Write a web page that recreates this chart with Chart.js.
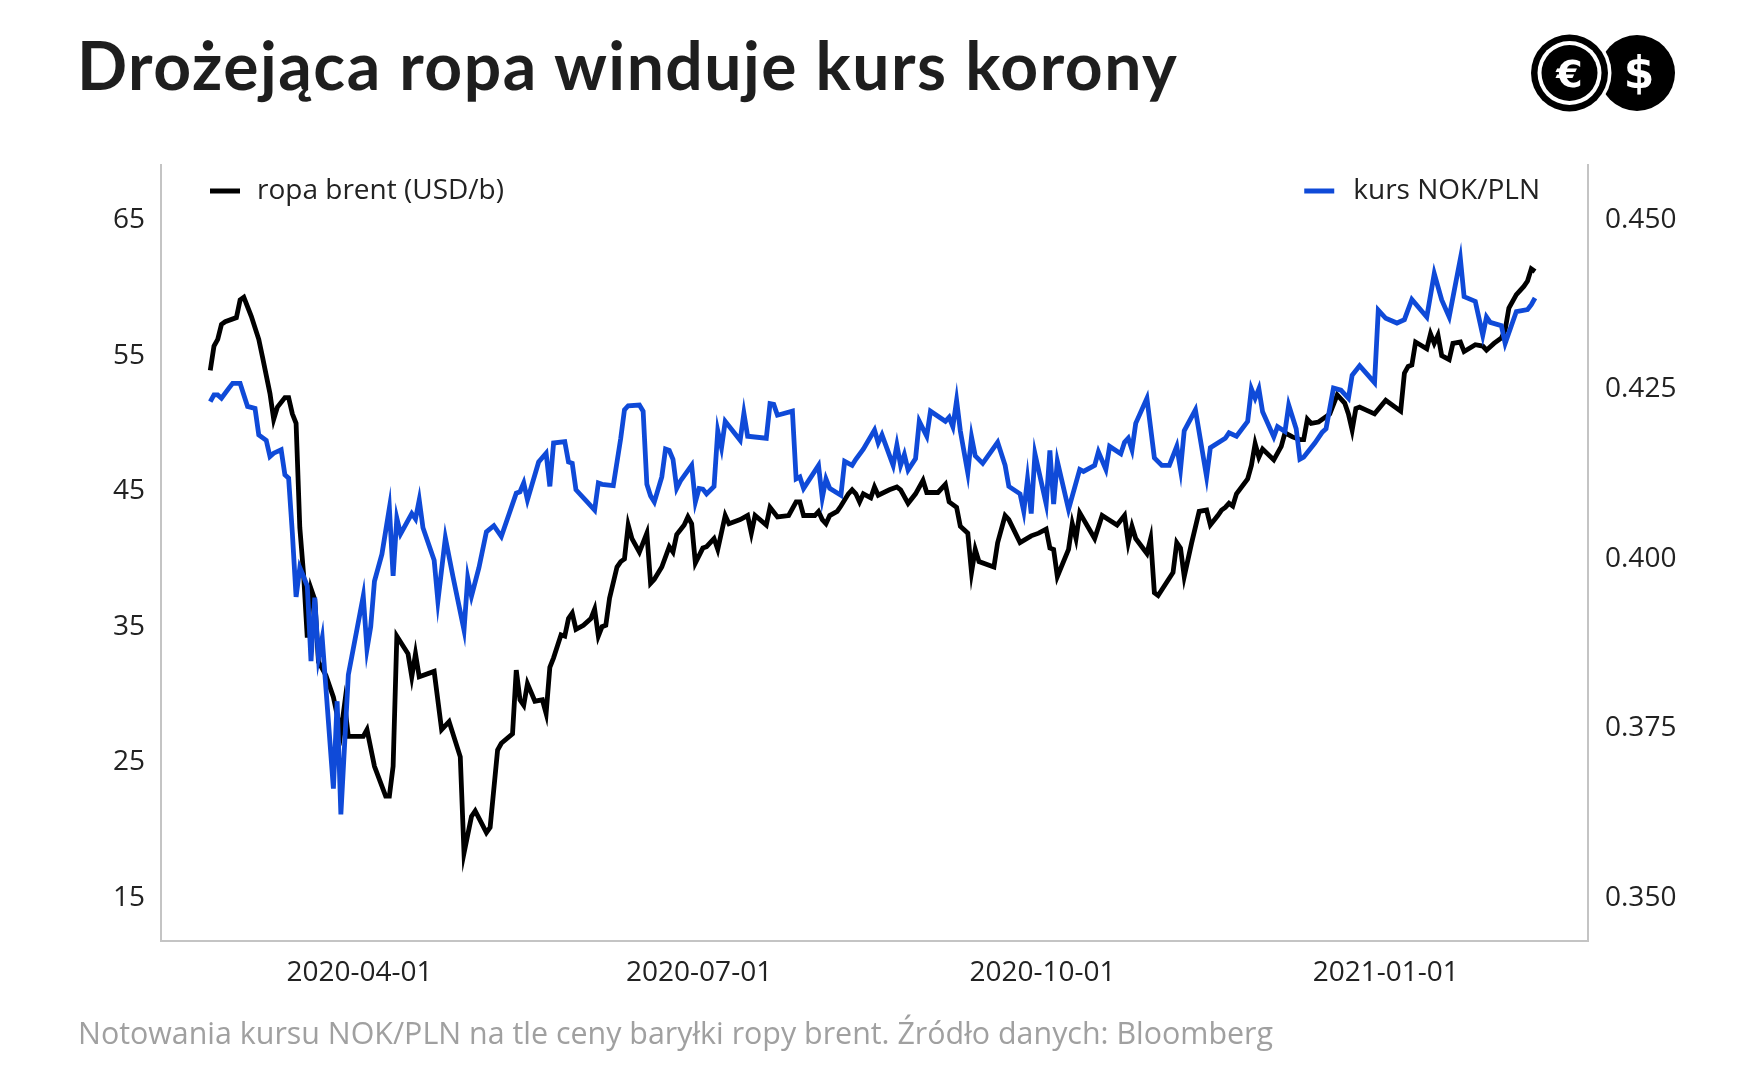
<!DOCTYPE html>
<html lang="pl">
<head>
<meta charset="utf-8">
<title>Drożejąca ropa winduje kurs korony</title>
<script src="https://cdn.jsdelivr.net/npm/chart.js@4.4.0/dist/chart.umd.min.js"></script>
<style>
  html, body { margin: 0; padding: 0; background: #fff; }
  body { width: 1751px; height: 1081px; position: relative; overflow: hidden; font-family: "Open Sans", sans-serif; }
  #title { position: absolute; left: 77px; top: 32px; margin: 0; font-family: Lato, sans-serif; font-weight: 700; font-size: 66px; letter-spacing: 1.5px; line-height: 1; color: #1e1e1e; z-index: 2; }
  #logo { position: absolute; left: 1528px; top: 31px; z-index: 2; }
  #note { position: absolute; left: 78px; top: 1012px; font-size: 30.4px; color: #a0a0a0; z-index: 2; }
  #chart { position: absolute; left: 0; top: 0; }
</style>
</head>
<body>
<h1 id="title">Drożejąca ropa winduje kurs korony</h1>
<svg id="logo" width="150" height="84" viewBox="0 0 150 84">
  <circle cx="109" cy="42" r="38" fill="#000"/>
  <text x="111" y="57" font-family="DejaVu Sans" font-weight="700" font-size="44" fill="#fff" text-anchor="middle">$</text>
  <circle cx="41.5" cy="42" r="42" fill="#fff"/>
  <circle cx="41.5" cy="42" r="38.5" fill="#000"/>
  <circle cx="41.5" cy="42" r="32" fill="#fff"/>
  <circle cx="41.5" cy="42" r="28" fill="#000"/>
  <text x="41.5" y="56" font-family="DejaVu Sans" font-weight="700" font-size="38" fill="#fff" text-anchor="middle">€</text>
</svg>
<canvas id="chart" width="1751" height="1081"></canvas>
<div id="note">Notowania kursu NOK/PLN na tle ceny baryłki ropy brent. Źródło danych: Bloomberg</div>

<script>
// days counted from 2020-01-01 (day 0)
const brentDays = [51,52,53,54,55,58,59,60,62,64,65,67,68,69,71,72,73,74,75,76,77,78,79,80,82,84,86,87,88,92,93,95,98,99,100,101,104,105,106,107,111,113,115,118,119,121,122,125,126,128,129,132,133,134,135,136,138,140,141,142,143,145,146,147,148,149,151,153,154,155,156,157,158,160,161,162,163,164,166,168,169,170,172,174,175,176,178,179,180,181,183,184,186,187,189,190,193,195,196,197,200,201,203,206,208,209,210,213,214,215,216,217,219,220,222,223,224,225,226,228,229,230,233,235,236,238,240,242,243,246,248,249,251,252,254,255,256,257,261,262,264,265,268,271,273,275,276,277,278,281,282,283,284,288,290,294,296,297,298,299,302,303,304,305,309,310,311,312,314,316,318,319,321,322,323,324,325,326,329,330,331,332,333,336,338,339,341,343,344,345,346,348,350,351,353,355,356,357,358,359,363,366,370,371,372,373,374,377,378,379,380,381,383,384,386,387,390,392,393,395,397,398,399,401,403,404,405,406];
const brentPrice = [53.9,55.7,56.2,57.3,57.5,57.8,59.1,59.3,57.9,56.2,54.9,52.2,50.3,51.2,51.9,51.9,50.7,50.0,42.3,38.9,34.2,37.8,37.0,32.4,31.4,29.8,27.2,29.3,26.9,26.9,27.4,24.7,22.5,22.5,24.7,34.3,33.0,31.3,33.0,31.3,31.7,27.4,28.0,25.4,18.3,21.0,21.4,19.8,20.2,25.9,26.4,27.1,31.8,29.6,29.2,30.8,29.5,29.6,28.6,32.0,32.7,34.4,34.3,35.6,36.0,34.8,35.1,35.6,36.3,34.3,35.0,35.1,37.1,39.4,39.8,40.0,42.5,41.5,40.5,41.9,38.2,38.5,39.4,40.9,40.5,41.8,42.5,43.1,42.6,39.7,40.8,40.9,41.5,40.7,43.2,42.6,42.9,43.2,41.9,43.2,42.5,43.8,43.1,43.2,44.2,44.2,43.2,43.2,43.5,42.9,42.6,43.2,43.5,43.9,44.8,45.1,44.8,44.2,44.8,44.5,45.3,44.7,45.1,45.3,45.1,44.1,44.8,45.8,44.9,44.9,45.5,44.2,43.8,42.4,41.9,39.0,40.7,39.8,39.4,41.2,43.2,42.9,41.2,41.7,41.9,42.2,40.8,40.7,38.7,40.7,42.6,41.5,43.4,41.5,43.2,42.5,43.2,41.2,42.4,41.5,40.4,41.5,37.5,37.3,39.0,41.2,40.8,38.7,41.2,43.5,43.6,42.5,43.2,43.6,43.8,44.1,43.9,44.8,45.9,46.9,48.5,47.5,48.1,47.3,48.3,49.3,49.0,48.8,48.8,50.3,50.0,50.1,50.5,50.7,52.1,51.5,50.7,49.5,51.1,51.2,50.7,51.7,50.9,53.7,54.2,54.3,56.0,55.5,56.6,55.9,56.5,55.0,54.7,55.9,56.0,55.3,55.8,55.7,55.4,55.9,56.3,56.9,58.5,59.5,60.1,60.5,61.4,61.2];

const nokDays = [51,52,53,54,56,57,59,60,61,63,64,66,67,68,70,71,72,73,74,75,76,77,78,79,80,81,84,85,86,88,92,93,94,95,97,99,100,101,102,105,106,107,108,111,112,114,116,119,120,121,123,125,127,129,133,134,135,136,139,141,142,143,146,147,148,149,152,154,155,156,159,161,162,163,166,167,168,169,170,172,173,174,175,176,177,180,181,182,183,184,186,187,188,189,193,194,195,200,201,202,203,207,208,209,210,214,215,216,217,220,221,223,224,226,229,230,231,234,235,236,237,238,240,241,243,244,248,249,250,251,252,254,255,256,258,262,264,265,268,269,270,271,272,275,276,277,278,281,284,285,288,289,291,292,295,296,297,298,299,302,304,306,308,310,311,312,315,318,319,323,324,326,329,330,331,332,333,336,337,339,340,342,343,344,347,349,350,352,354,356,357,359,363,364,366,369,371,373,377,379,381,383,386,387,390,392,393,394,397,398,401,404,405,406];
const nokRate = [0.4232,0.4242,0.4242,0.4237,0.4252,0.4259,0.4259,0.4242,0.4225,0.4222,0.4183,0.4175,0.4151,0.4156,0.4161,0.4124,0.4119,0.4038,0.3944,0.3987,0.3974,0.3960,0.3849,0.3943,0.3854,0.3883,0.3661,0.3790,0.3623,0.3829,0.3945,0.3867,0.3900,0.3967,0.4007,0.4075,0.3975,0.4060,0.4037,0.4067,0.4059,0.4087,0.4046,0.3998,0.3938,0.4031,0.3975,0.3895,0.3972,0.3945,0.3987,0.4040,0.4049,0.4033,0.4097,0.4099,0.4112,0.4087,0.4143,0.4156,0.4107,0.4171,0.4173,0.4143,0.4141,0.4102,0.4084,0.4072,0.4112,0.4110,0.4108,0.4178,0.4220,0.4226,0.4227,0.4218,0.4110,0.4093,0.4084,0.4121,0.4162,0.4160,0.4147,0.4104,0.4115,0.4138,0.4084,0.4104,0.4103,0.4096,0.4107,0.4189,0.4164,0.4203,0.4175,0.4215,0.4181,0.4178,0.4229,0.4228,0.4212,0.4218,0.4118,0.4121,0.4104,0.4138,0.4090,0.4118,0.4104,0.4094,0.4144,0.4138,0.4147,0.4162,0.4190,0.4171,0.4183,0.4138,0.4168,0.4138,0.4154,0.4131,0.4148,0.4203,0.4181,0.4218,0.4203,0.4209,0.4195,0.4234,0.4189,0.4127,0.4180,0.4152,0.4141,0.4172,0.4138,0.4107,0.4096,0.4070,0.4118,0.4067,0.4155,0.4081,0.4160,0.4081,0.4144,0.4073,0.4132,0.4129,0.4138,0.4158,0.4132,0.4166,0.4155,0.4172,0.4178,0.4161,0.4200,0.4237,0.4149,0.4138,0.4138,0.4166,0.4132,0.4189,0.4220,0.4121,0.4164,0.4178,0.4186,0.4181,0.4203,0.4251,0.4237,0.4251,0.4217,0.4180,0.4195,0.4188,0.4227,0.4192,0.4147,0.4150,0.4171,0.4187,0.4192,0.4252,0.4249,0.4237,0.4271,0.4285,0.4260,0.4367,0.4355,0.4348,0.4353,0.4383,0.4357,0.4421,0.4382,0.4357,0.4443,0.4387,0.4380,0.4330,0.4357,0.4349,0.4344,0.4318,0.4365,0.4368,0.4375,0.4385];

const xTickDays = [91, 182, 274, 366];
const brentTicks = [15, 25, 35, 45, 55, 65];
const nokTicks = [0.35, 0.375, 0.4, 0.425, 0.45];

function dayLabel(d) {
  return new Date(Date.UTC(2020, 0, 1 + d)).toISOString().slice(0, 10);
}

const axisFont = { family: 'Open Sans', size: 28 };
const axisBorder = { display: true, color: '#c4c4c4', width: 2 };

// legend items: one at the left and one at the right of the plot
const legendRow = {
  id: 'legendRow',
  afterDraw(chart) {
    const { ctx, chartArea } = chart;
    const y = chartArea.top + 26;
    ctx.save();
    ctx.font = '28px "Open Sans"';
    ctx.textBaseline = 'middle';
    ctx.fillStyle = '#222';
    ctx.lineWidth = 5;

    const a = chart.data.datasets[0];
    let x = chartArea.left + 49;
    ctx.strokeStyle = a.borderColor;
    ctx.beginPath(); ctx.moveTo(x, y); ctx.lineTo(x + 30, y); ctx.stroke();
    ctx.textAlign = 'left';
    ctx.fillText(a.label, x + 47, y);

    const b = chart.data.datasets[1];
    x = chartArea.right - 48;
    ctx.textAlign = 'right';
    ctx.fillText(b.label, x, y);
    const w = ctx.measureText(b.label).width;
    ctx.strokeStyle = b.borderColor;
    ctx.beginPath(); ctx.moveTo(x - w - 49, y); ctx.lineTo(x - w - 19, y); ctx.stroke();
    ctx.restore();
  }
};

new Chart(document.getElementById('chart'), {
  type: 'line',
  data: {
    datasets: [
      {
        label: 'ropa brent (USD/b)',
        data: brentDays.map((d, i) => ({ x: d, y: brentPrice[i] })),
        yAxisID: 'yBrent',
        borderColor: '#000000',
        borderWidth: 4.8,
        pointRadius: 0,
        order: 1
      },
      {
        label: 'kurs NOK/PLN',
        data: nokDays.map((d, i) => ({ x: d, y: nokRate[i] })),
        yAxisID: 'yNok',
        borderColor: '#0f4ad8',
        borderWidth: 4.8,
        pointRadius: 0,
        order: 0
      }
    ]
  },
  options: {
    responsive: false,
    animation: false,
    layout: { padding: { top: 165, left: 0, right: 0, bottom: 0 } },
    plugins: {
      legend: { display: false },
      tooltip: { enabled: false }
    },
    scales: {
      x: {
        type: 'linear',
        min: 37.8,
        max: 420.2,
        grid: { display: false, drawTicks: false },
        border: axisBorder,
        afterBuildTicks: s => { s.ticks = xTickDays.map(v => ({ value: v })); },
        afterFit: s => { s.height = 140; },
        ticks: {
          font: axisFont,
          color: '#222',
          padding: 15,
          maxRotation: 0,
          callback: v => dayLabel(v)
        }
      },
      yBrent: {
        position: 'left',
        min: 11.81,
        max: 69.06,
        grid: { display: false, drawTicks: false },
        border: axisBorder,
        afterBuildTicks: s => { s.ticks = brentTicks.map(v => ({ value: v })); },
        afterFit: s => { s.width = 161; },
        ticks: { font: axisFont, color: '#222', padding: 16 }
      },
      yNok: {
        position: 'right',
        min: 0.34362,
        max: 0.45812,
        grid: { display: false, drawTicks: false },
        border: axisBorder,
        afterBuildTicks: s => { s.ticks = nokTicks.map(v => ({ value: v })); },
        afterFit: s => { s.width = 163; },
        ticks: { font: axisFont, color: '#222', padding: 17, callback: v => v.toFixed(3) }
      }
    }
  },
  plugins: [legendRow]
});
</script>
</body>
</html>
